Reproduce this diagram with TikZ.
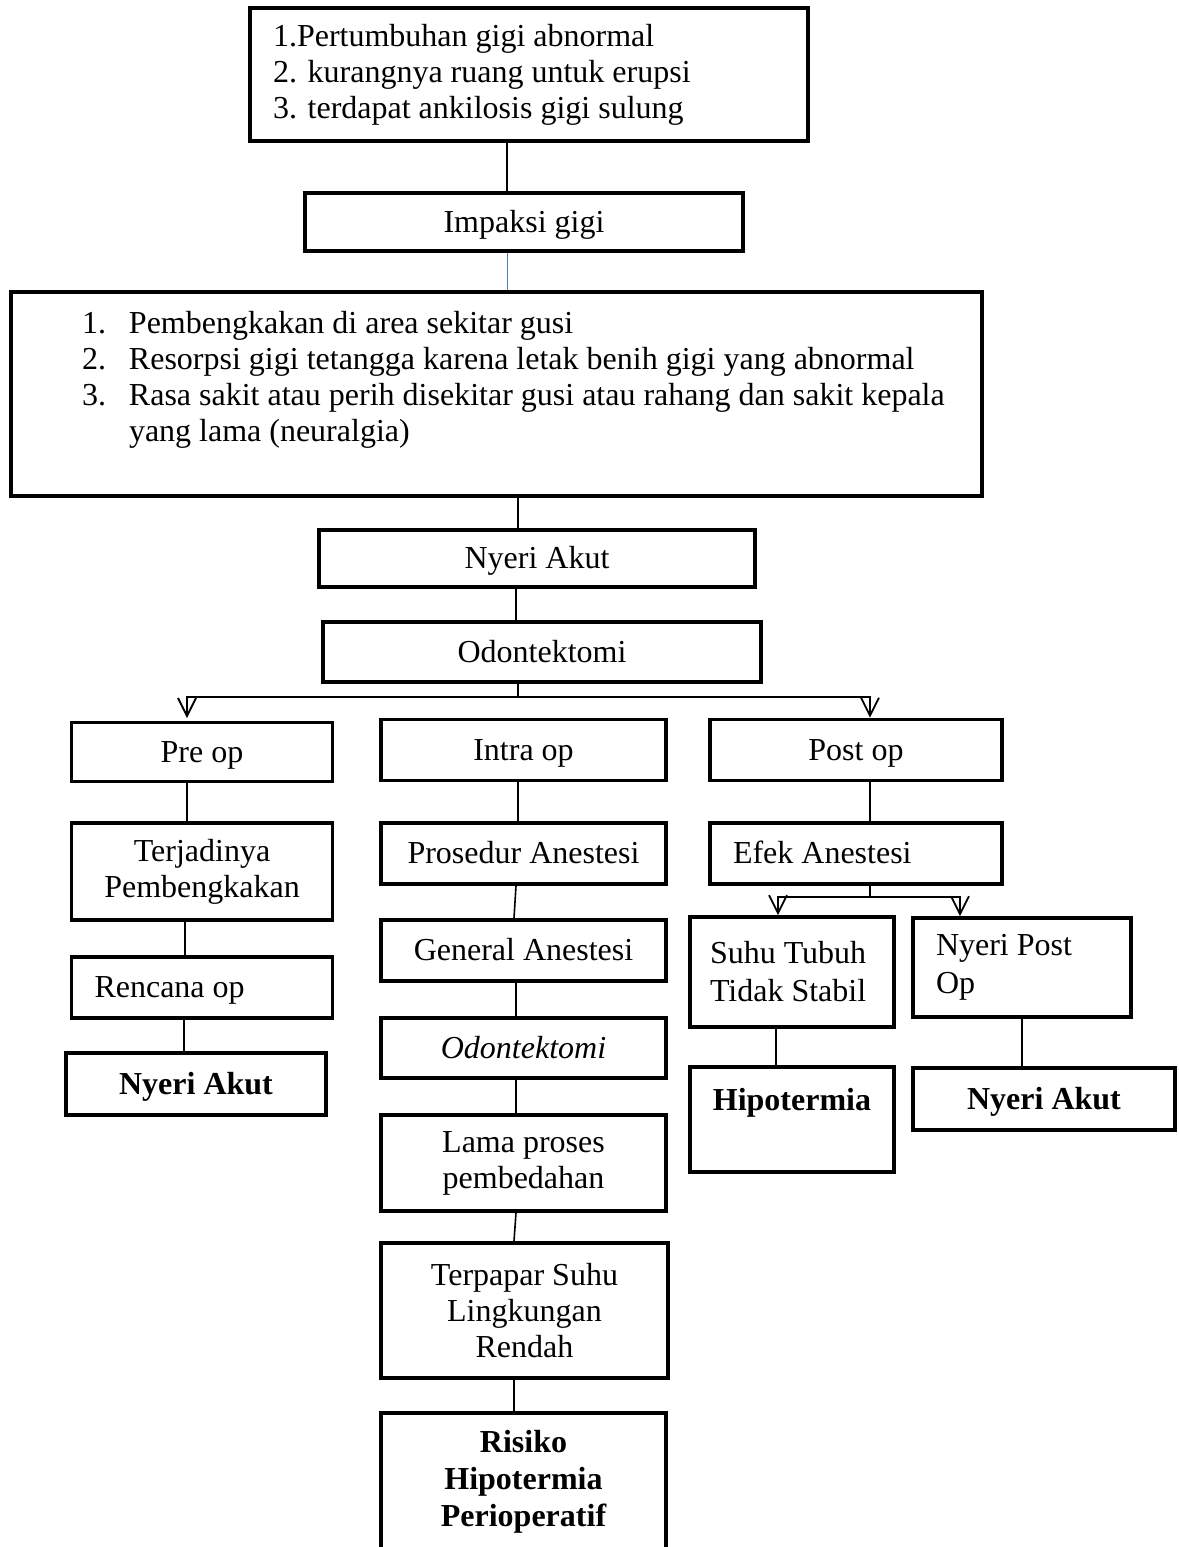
\documentclass[tikz,border=0pt]{standalone}
\usepackage{fontspec}
\setmainfont{Liberation Serif}
\usetikzlibrary{arrows.meta}
\definecolor{link}{HTML}{4A7EBB}

\begin{document}
\begin{tikzpicture}[x=0.5pt, y=-0.5pt, font=\fontsize{16}{18}\selectfont,
  box/.style={draw, line width=1.8pt, inner sep=0pt, align=center},
  lbox/.style={box, align=flush left, inner xsep=11.5pt},
  one/.style={text height=13pt, text depth=3pt},
  conn/.style={line width=0.8pt},
  arr/.style={conn, -{Straight Barb[length=9pt, width=9pt, line width=0.9pt]}}
]
  \useasboundingbox (0,0) rectangle (1178,1547);

  \node[lbox, text width=256pt, minimum height=66.5pt] (sebab) at (529,74.5)
    {1.Pertumbuhan gigi abnormal\\2. kurangnya ruang untuk erupsi\\3. terdapat ankilosis gigi sulung};
  \node[box, one, minimum width=219pt, minimum height=29pt] (impaksi) at (524,222) {Impaksi gigi};
  \node[box] (gejala) at (496.5,394) {\parbox[c][102pt][t]{485.5pt}{\vspace*{9.5pt}\leftskip=35.5pt
    \makebox[23.5pt][l]{1.}Pembengkakan di area sekitar gusi\\
    \makebox[23.5pt][l]{2.}Resorpsi gigi tetangga karena letak benih gigi yang abnormal\\
    \makebox[23.5pt][l]{3.}Rasa sakit atau perih disekitar gusi atau rahang dan sakit kepala\\
    \hspace*{23.5pt}yang lama (neuralgia)}};
  \node[box, one, minimum width=218pt, minimum height=28.5pt] (nyeri) at (537,558.5) {Nyeri Akut};
  \node[box, one, minimum width=219pt, minimum height=30pt] (odon) at (542,652) {Odontektomi};

  \node[box, one, minimum width=130.5pt, minimum height=29.5pt] (pre) at (202,752) {Pre op};
  \node[box, one, minimum width=142.5pt, minimum height=30.5pt] (intra) at (523.5,750) {Intra op};
  \node[box, one, minimum width=146pt, minimum height=30.5pt] (post) at (856,750) {Post op};

  \node[box, minimum width=130.5pt, minimum height=48.5pt] (bengkak) at (202,871.5) {Terjadinya\\Pembengkakan};
  \node[lbox, one, text width=107.5pt, minimum height=30.5pt] (rencana) at (202,987.5) {Rencana op};
  \node[box, one, minimum width=130pt, minimum height=31pt, font=\fontsize{16}{18}\selectfont\bfseries] (nyeripre) at (196,1084) {Nyeri Akut};

  \node[box, one, minimum width=142.5pt, minimum height=30.5pt] (prosedur) at (523.5,853.5) {Prosedur Anestesi};
  \node[box, one, minimum width=142.5pt, minimum height=30.5pt] (general) at (523.5,950.5) {General Anestesi};
  \node[box, one, minimum width=142.5pt, minimum height=30pt, font=\fontsize{16}{18}\selectfont\itshape] (odonint) at (523.5,1048) {Odontektomi};
  \node[box, minimum width=142.5pt, minimum height=48pt] (lama) at (523.5,1163) {Lama proses\\pembedahan};
  \node[box, minimum width=143.5pt, minimum height=67.5pt] (terpapar) at (524.5,1310.5) {Terpapar Suhu\\Lingkungan\\Rendah};
  \node[box, minimum width=142.5pt, minimum height=69pt, font=\fontsize{16}{18.5}\selectfont\bfseries] (risiko) at (523.5,1482) {Risiko\\Hipotermia\\Perioperatif};

  \node[lbox, one, text width=123pt, minimum height=30.5pt] (efek) at (856,853.5) {Efek Anestesi};
  \node[lbox, inner xsep=10pt, text width=82pt, minimum height=55pt, font=\fontsize{16}{19}\selectfont] (suhu) at (792,972) {Suhu Tubuh\\Tidak Stabil};
  \node[lbox, text width=86pt, minimum height=49.5pt, font=\fontsize{16}{19}\selectfont] (nyeripost) at (1022,967.5) {Nyeri Post\\Op};
  \node[box, minimum width=102pt, minimum height=52.5pt, text depth=20pt, font=\fontsize{16}{18}\selectfont\bfseries] (hipo) at (792,1119.5) {Hipotermia};
  \node[box, one, minimum width=131pt, minimum height=31pt, font=\fontsize{16}{18}\selectfont\bfseries] (nyeripos) at (1044,1099) {Nyeri Akut};

  \draw[conn] (sebab.south -| 507,0) -- (impaksi.north -| 507,0);
  \draw[conn, link, line width=0.5pt] (impaksi.south -| 507,0) -- (gejala.north -| 507,0);
  \draw[conn] (gejala.south -| 518,0) -- (nyeri.north -| 518,0);
  \draw[conn] (nyeri.south -| 516,0) -- (odon.north -| 516,0);
  \draw[conn] (odon.south -| 518,0) -- (518,697);
  \draw[arr] (518,697) -| (187,718);
  \draw[arr] (518,697) -| (post.north -| 870,0);

  \draw[conn] (pre.south -| 187,0) -- (bengkak.north -| 187,0);
  \draw[conn] (bengkak.south -| 185,0) -- (rencana.north -| 185,0);
  \draw[conn] (rencana.south -| 184,0) -- (nyeripre.north -| 184,0);

  \draw[conn] (intra.south -| 518,0) -- (prosedur.north -| 518,0);
  \draw[conn] (prosedur.south -| 516,0) -- (general.north -| 514,0);
  \draw[conn] (general.south -| 516,0) -- (odonint.north -| 516,0);
  \draw[conn] (odonint.south -| 516,0) -- (lama.north -| 516,0);
  \draw[conn] (lama.south -| 516,0) -- (terpapar.north -| 514,0);
  \draw[conn] (terpapar.south -| 514,0) -- (risiko.north -| 514,0);

  \draw[conn] (post.south -| 870,0) -- (efek.north -| 870,0);
  \draw[conn] (efek.south -| 870,0) -- (870,897);
  \draw[arr] (870,897) -| (suhu.north -| 778,0);
  \draw[arr] (870,897) -| (nyeripost.north -| 960,0);
  \draw[conn] (suhu.south -| 776,0) -- (hipo.north -| 776,0);
  \draw[conn] (nyeripost.south -| 1022,0) -- (nyeripos.north -| 1022,0);
\end{tikzpicture}
\end{document}
